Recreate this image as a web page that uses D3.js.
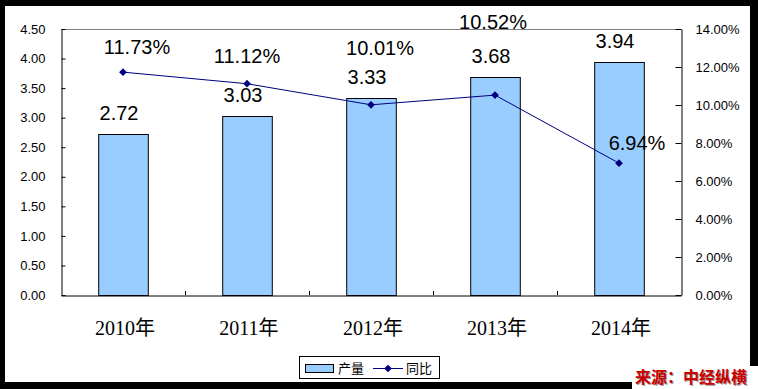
<!DOCTYPE html>
<html><head><meta charset="utf-8">
<script src="https://cdn.jsdelivr.net/npm/d3@7"></script>
<style>body{margin:0;background:#fff}svg{display:block}</style>
</head><body>
<svg id="c" width="758" height="389"></svg>
<script>
const categories = ["2010年","2011年","2012年","2013年","2014年"];
const output = [2.72, 3.03, 3.33, 3.68, 3.94];
const yoy = [11.73, 11.12, 10.01, 10.52, 6.94];
const leftTicks = [0,0.5,1,1.5,2,2.5,3,3.5,4,4.5];
const rightTicks = [0,2,4,6,8,10,12,14];
const seriesNames = ["产量","同比"];
const sourceText = "来源：中经纵横";
// label layout offsets (dx, dy) for percent labels
const pctLabelOffsets = [[14,-18],[0,-21],[9,-50],[-2,-66],[18,-13]];

const svg = d3.select("#c");
const W=758,H=389;
const m={l:61,r:681,t:29,b:295};

svg.append("rect").attr("x",0).attr("y",0).attr("width",W).attr("height",H).attr("fill","#000");
svg.append("rect").attr("x",5).attr("y",6).attr("width",745).attr("height",376).attr("fill","#fff");

const x = d3.scaleBand().domain(categories).range([m.l,m.r]).paddingInner(0).paddingOuter(0);
const yL = d3.scaleLinear().domain([0,4.5]).range([m.b,m.t]);
const yR = d3.scaleLinear().domain([0,14]).range([m.b,m.t]);
const bw = x.bandwidth()*0.4;

// top border line
svg.append("line").attr("x1",m.l).attr("x2",m.r).attr("y1",m.t+0.5).attr("y2",m.t+0.5).attr("stroke","#808080");

// bars
svg.selectAll("rect.bar").data(output).enter().append("rect").attr("class","bar")
  .attr("x",(d,i)=>x(categories[i])+x.bandwidth()/2-bw/2+0.5)
  .attr("y",d=>Math.round(yL(d))+0.5)
  .attr("width",bw)
  .attr("height",d=>m.b-Math.round(yL(d)))
  .attr("fill","#99CCFF").attr("stroke","#000").attr("stroke-width",1);

// axes
const fontAx = "Arial, 'Liberation Sans', sans-serif";
const gL = svg.append("g").attr("transform",`translate(${m.l+0.5},0)`)
  .call(d3.axisLeft(yL).tickValues(leftTicks).tickFormat(d3.format(".2f")).tickSizeInner(-4).tickSizeOuter(0).tickPadding(16));
const gR = svg.append("g").attr("transform",`translate(${m.r+0.5},0)`)
  .call(d3.axisRight(yR).tickValues(rightTicks).tickFormat(d=>d.toFixed(2)+"%").tickSizeInner(-6).tickSizeOuter(0).tickPadding(14));
const gB = svg.append("g").attr("transform",`translate(0,${m.b+0.5})`)
  .call(d3.axisBottom(x).tickValues([]).tickSizeOuter(0));
[gL,gR].forEach(g=>{
  g.select(".domain").attr("stroke","#000");
  g.selectAll(".tick line").attr("stroke","#000");
  g.selectAll("text").attr("font-family",fontAx).attr("font-size",13).attr("fill","#000");
});
gB.select(".domain").attr("stroke","#000");
// category separator ticks
svg.selectAll("line.xt").data(categories.slice(1)).enter().append("line").attr("class","xt")
  .attr("x1",d=>Math.round(x(d))+0.5).attr("x2",d=>Math.round(x(d))+0.5)
  .attr("y1",m.b).attr("y2",m.b-4).attr("stroke","#000");
// category labels
svg.selectAll("text.cat").data(categories).enter().append("text").attr("class","cat")
  .attr("x",d=>x(d)+x.bandwidth()/2+2).attr("y",335).attr("text-anchor","middle")
  .attr("font-family","'Liberation Serif','Times New Roman','Noto Sans CJK SC',serif").attr("font-size",20)
  .attr("fill","#000").text(d=>d);

// line
const cx = i=>x(categories[i])+x.bandwidth()/2;
const marker = d3.symbol().type(d3.symbolSquare).size(30);
svg.append("path").datum(yoy).attr("fill","none").attr("stroke","#000080").attr("stroke-width",1)
  .attr("d",d3.line().x((d,i)=>cx(i)).y(d=>yR(d)));
svg.selectAll("path.mk").data(yoy).enter().append("path").attr("class","mk")
  .attr("d",marker)
  .attr("transform",(d,i)=>`translate(${cx(i)},${yR(d)}) rotate(45)`).attr("fill","#000080");

// bar labels
svg.selectAll("text.bl").data(output).enter().append("text").attr("class","bl")
  .attr("x",(d,i)=>cx(i)-4).attr("y",d=>yL(d)-14).attr("text-anchor","middle")
  .attr("font-family",fontAx).attr("font-size",20).attr("fill","#000").text(d=>d.toFixed(2));
// pct labels
svg.selectAll("text.pl").data(yoy).enter().append("text").attr("class","pl")
  .attr("x",(d,i)=>cx(i)+pctLabelOffsets[i][0]).attr("y",(d,i)=>yR(d)+pctLabelOffsets[i][1]).attr("text-anchor","middle")
  .attr("font-family",fontAx).attr("font-size",20).attr("fill","#000").text(d=>d.toFixed(2)+"%");

// legend
const lg = svg.append("g");
lg.append("rect").attr("x",299.5).attr("y",356.5).attr("width",140).attr("height",22).attr("fill","#fff").attr("stroke","#000");
lg.append("rect").attr("x",305.5).attr("y",364.5).attr("width",28).attr("height",8).attr("fill","#99CCFF").attr("stroke","#000");
lg.append("text").attr("x",338).attr("y",373).attr("font-family","'Noto Sans CJK SC',sans-serif").attr("font-size",13).attr("fill","#000").text(seriesNames[0]);
lg.append("line").attr("x1",373).attr("x2",403).attr("y1",368.5).attr("y2",368.5).attr("stroke","#000080");
lg.append("path").attr("d",marker).attr("transform","translate(388,368.5) rotate(45)").attr("fill","#000080");
lg.append("text").attr("x",406).attr("y",373).attr("font-family","'Noto Sans CJK SC',sans-serif").attr("font-size",13).attr("fill","#000").text(seriesNames[1]);

// source
svg.append("rect").attr("x",632).attr("y",366).attr("width",126).attr("height",23).attr("fill","#fff");
svg.append("text").attr("x",636).attr("y",384).attr("font-family","'Noto Sans CJK SC',sans-serif").attr("font-size",16).attr("font-weight","bold")
  .attr("fill","#999").text(sourceText);
svg.append("text").attr("x",635).attr("y",383).attr("font-family","'Noto Sans CJK SC',sans-serif").attr("font-size",16).attr("font-weight","bold")
  .attr("fill","#CC0000").text(sourceText);
</script>
</body></html>
